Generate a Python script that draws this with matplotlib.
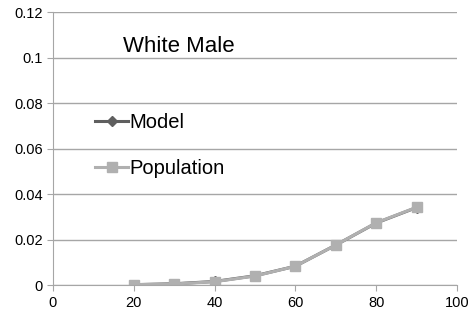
import matplotlib.pyplot as plt

age = [20, 30, 40, 50, 60, 70, 80, 90]
model = [0.0002, 0.0006, 0.0016, 0.0041, 0.0083, 0.0176, 0.0273, 0.0341]
population = [0.0002, 0.0005, 0.0015, 0.0040, 0.0083, 0.0176, 0.0274, 0.0342]

plt.rcParams['font.family'] = ['Liberation Sans', 'DejaVu Sans']

fig = plt.figure(figsize=(4.73, 3.2), dpi=100)
ax = fig.add_axes([0.112, 0.109, 0.854, 0.853])

ax.plot(age, model, color="#5f5f5f", marker="D", markersize=5, linewidth=2.2, label="Model")
ax.plot(age, population, color="#b0b0b0", marker="s", markersize=7, linewidth=2.2, label="Population")

ax.set_xlim(0, 100)
ax.set_ylim(0, 0.12)
ax.set_xticks([0, 20, 40, 60, 80, 100])
ax.set_yticks([0, 0.02, 0.04, 0.06, 0.08, 0.1, 0.12])
ax.set_yticklabels(["0", "0.02", "0.04", "0.06", "0.08", "0.1", "0.12"])
ax.yaxis.grid(True, color="#a6a6a6", linewidth=1)
ax.set_axisbelow(True)
for s in ["top", "right"]:
    ax.spines[s].set_visible(False)
for s in ["left", "bottom"]:
    ax.spines[s].set_color("#a6a6a6")
ax.tick_params(axis="both", colors="#a6a6a6", labelcolor="black", labelsize=10.5, length=4)

ax.text(0.173, 0.875, "White Male", transform=ax.transAxes, fontsize=16, va="center")
ax.legend(loc="upper left", bbox_to_anchor=(0.105, 0.632), frameon=False, fontsize=14.5,
          handlelength=1.6, handletextpad=0.1, labelspacing=1.38, borderaxespad=0,
          borderpad=0)

fig.savefig("out.png", dpi=100)
